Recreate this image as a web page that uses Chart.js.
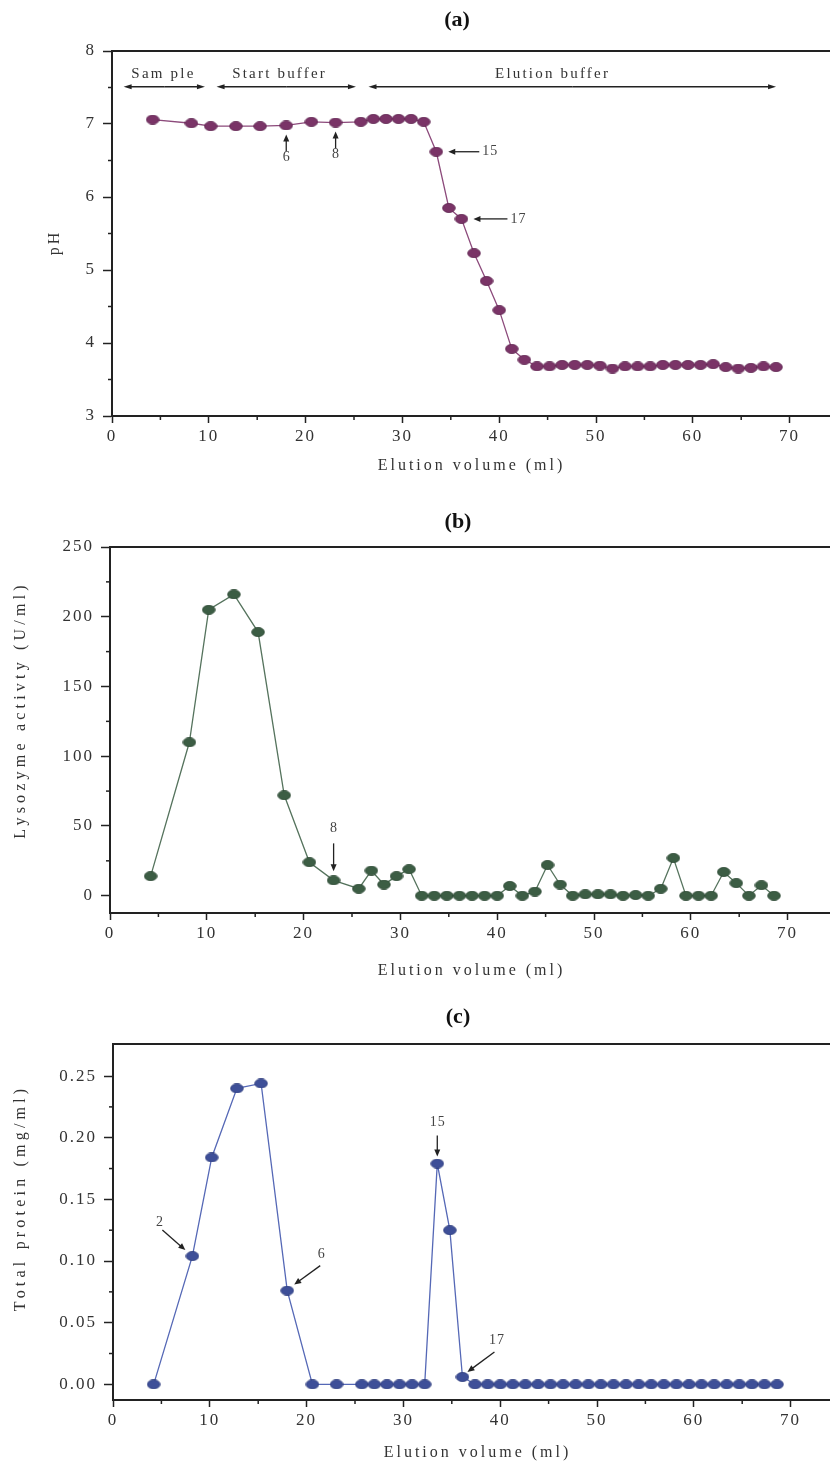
<!DOCTYPE html>
<html><head><meta charset="utf-8">
<script src="https://cdn.jsdelivr.net/npm/chart.js@4.4.1/dist/chart.umd.min.js"></script>
<style>
html,body{margin:0;padding:0;background:#fff;overflow:hidden;width:830px;height:1465px}
.p{position:absolute;left:0;width:830px}
canvas{display:block}
</style></head><body>
<div class="p" style="top:0px;height:490px"><canvas id="ca" width="830" height="490"></canvas></div>
<div class="p" style="top:490px;height:500px"><canvas id="cb" width="830" height="500"></canvas></div>
<div class="p" style="top:990px;height:475px"><canvas id="cc" width="830" height="475"></canvas></div>
<script>
// ---------------- DATA ----------------
const elutionVolume = [4.2, 8.2, 10.2, 12.8, 15.3, 18.0, 20.6, 23.1, 25.7, 27.0, 28.3, 29.6, 30.9, 32.2,
  33.5, 34.8, 36.1, 37.4, 38.7, 40.0, 41.3, 42.6, 43.9, 45.2, 46.5, 47.8, 49.1, 50.4, 51.7, 53.0,
  54.3, 55.6, 56.9, 58.2, 59.5, 60.8, 62.1, 63.4, 64.7, 66.0, 67.3, 68.6];
const pHValues = [7.06, 7.01, 6.97, 6.97, 6.97, 6.98, 7.03, 7.02, 7.03, 7.07, 7.07, 7.07, 7.07, 7.03,
  6.62, 5.85, 5.70, 5.23, 4.85, 4.45, 3.92, 3.77,
  3.68, 3.68, 3.70, 3.70, 3.70, 3.69, 3.65, 3.68, 3.68, 3.68, 3.70, 3.70, 3.70, 3.70, 3.71, 3.67, 3.65, 3.66, 3.68, 3.67];
const lysozymeActivity = [14, 110, 205, 216, 189, 72, 24, 11, 5, 18, 8, 14, 19, 0,
  0, 0, 0, 0, 0, 0, 7, 0, 3, 22, 8, 0, 1, 1, 1, 0, 0.5, 0, 5, 27, 0, 0, 0, 17, 9, 0, 7.5, 0];
const totalProtein = [0, 0.104, 0.184, 0.240, 0.244, 0.076, 0, 0, 0, 0, 0, 0, 0, 0,
  0.179, 0.125, 0.006, 0, 0, 0, 0, 0, 0, 0, 0, 0, 0, 0, 0, 0, 0, 0, 0, 0, 0, 0, 0, 0, 0, 0, 0, 0];
const xTicks = [0, 10, 20, 30, 40, 50, 60, 70];
const xMinorTicks = [5, 15, 25, 35, 45, 55, 65];
const pHTicks = [3, 4, 5, 6, 7, 8];
const pHMinorTicks = [3.5, 4.5, 5.5, 6.5, 7.5];
const activityTicks = [0, 50, 100, 150, 200, 250];
const activityMinorTicks = [25, 75, 125, 175, 225];
const proteinTicks = [0, 0.05, 0.10, 0.15, 0.20, 0.25];
const proteinMinorTicks = [0.025, 0.075, 0.125, 0.175, 0.225];
const regionLabels = ['Sam ple', 'Start buffer', 'Elution buffer'];
const regionFrom = [1.2, 10.8, 26.5];
const regionTo = [9.6, 25.2, 68.6];

// ---------------- HELPERS ----------------
const SERIF = "'Liberation Serif','Times New Roman',serif";
function ellipseImg(fill, stroke) {
  const c = document.createElement('canvas'); c.width = 14; c.height = 10;
  const g = c.getContext('2d');
  g.beginPath(); g.ellipse(7, 5, 6.3, 4.6, 0, 0, Math.PI * 2);
  g.fillStyle = fill; g.fill(); g.lineWidth = 0.8; g.strokeStyle = stroke; g.stroke();
  return c;
}
function arrow(ctx, x1, y1, x2, y2, hl, hw) {
  const a = Math.atan2(y2 - y1, x2 - x1);
  ctx.beginPath(); ctx.moveTo(x1, y1);
  ctx.lineTo(x2 - Math.cos(a) * hl * 0.8, y2 - Math.sin(a) * hl * 0.8); ctx.stroke();
  ctx.beginPath(); ctx.moveTo(x2, y2);
  ctx.lineTo(x2 - Math.cos(a) * hl + Math.sin(a) * hw, y2 - Math.sin(a) * hl - Math.cos(a) * hw);
  ctx.lineTo(x2 - Math.cos(a) * hl - Math.sin(a) * hw, y2 - Math.sin(a) * hl + Math.cos(a) * hw);
  ctx.closePath(); ctx.fill();
}
function text(ctx, s, x, y, font, spacing, align, color, rot) {
  ctx.save();
  ctx.font = font; ctx.letterSpacing = spacing + 'px'; ctx.fillStyle = color || '#333';
  ctx.textBaseline = 'middle';
  ctx.translate(x, y); if (rot) ctx.rotate(rot);
  let w = ctx.measureText(s).width - spacing;
  let dx = align === 'left' ? 0 : align === 'right' ? -w : -w / 2;
  ctx.textAlign = 'left';
  ctx.fillText(s, dx, 0);
  ctx.restore();
}

function makeChart(cfg) {
  const H = cfg.H, A = cfg.area;
  const xMax = (830 - A.left) / 9.68;
  const deco = {
    id: 'deco',
    beforeDraw(chart) { chart.ctx.letterSpacing = '2px'; },
    afterDraw(chart) {
      const ctx = chart.ctx, ca = chart.chartArea;
      const xs = chart.scales.x, ys = chart.scales.y;
      ctx.save();
      ctx.letterSpacing = '0px';
      ctx.strokeStyle = '#222'; ctx.fillStyle = '#222';
      ctx.lineWidth = 2;
      ctx.beginPath(); ctx.moveTo(ca.left - 1, ca.top); ctx.lineTo(830, ca.top); ctx.stroke();
      ctx.lineWidth = 1.5;
      xMinorTicks.forEach(v => { const px = xs.getPixelForValue(v);
        ctx.beginPath(); ctx.moveTo(px, ca.bottom); ctx.lineTo(px, ca.bottom + 4); ctx.stroke(); });
      cfg.yMinor.forEach(v => { const py = ys.getPixelForValue(v);
        ctx.beginPath(); ctx.moveTo(ca.left, py); ctx.lineTo(ca.left - 4, py); ctx.stroke(); });
      ctx.restore();
      text(ctx, cfg.panel, cfg.panelX, cfg.panelY, "bold 22px " + SERIF, 0, 'center', '#111');
      text(ctx, 'Elution volume (ml)', cfg.xtX, cfg.xtY, "16px " + SERIF, 3, 'center', '#333');
      text(ctx, cfg.ytitle, cfg.ytX, cfg.ytY, "16px " + SERIF, cfg.ytSpacing, 'center', '#333', -Math.PI / 2);
      ctx.save();
      ctx.strokeStyle = '#222'; ctx.fillStyle = '#222'; ctx.lineWidth = 1.3;
      (cfg.notes || []).forEach(n => {
        const px = xs.getPixelForValue(n.x), py = ys.getPixelForValue(n.y);
        arrow(ctx, px + n.tail[0], py + n.tail[1], px + n.head[0], py + n.head[1], 7, 3);
        text(ctx, n.label, px + n.lab[0], py + n.lab[1], "14px " + SERIF, 1, n.align || 'center', '#444');
      });
      ctx.restore();
      if (cfg.regions) cfg.regions(chart, ctx, xs, ys);
    }
  };
  return new Chart(document.getElementById(cfg.id), {
    type: 'line',
    data: { datasets: [{
      data: elutionVolume.map((x, i) => ({ x: x, y: cfg.values[i] })),
      borderColor: cfg.line, borderWidth: 1.3, tension: 0,
      pointStyle: ellipseImg(cfg.fill, cfg.stroke), pointRadius: 6, pointHoverRadius: 6
    }] },
    options: {
      responsive: false, animation: false, devicePixelRatio: 1,
      layout: { autoPadding: false, padding: { top: A.top, left: 0, right: 0, bottom: 0 } },
      plugins: { legend: { display: false }, tooltip: { enabled: false } },
      scales: {
        x: {
          type: 'linear', min: 0, max: xMax,
          afterBuildTicks: s => { s.ticks = xTicks.map(v => ({ value: v })); },
          afterFit: s => { s.height = H - A.bottom; s.paddingRight = 0; s.paddingLeft = 0; },
          ticks: { autoSkip: false, maxRotation: 0, padding: 3, color: '#333',
            font: { size: 17, family: SERIF }, callback: v => String(v) },
          grid: { drawOnChartArea: false, tickLength: 7, tickWidth: 1.5, tickColor: '#222' },
          border: { width: 2, color: '#222' }
        },
        y: {
          type: 'linear', min: cfg.yMin, max: cfg.yMax,
          afterBuildTicks: s => { s.ticks = cfg.yTicks.map(v => ({ value: v })); },
          afterFit: s => { s.width = A.left; s.paddingTop = 0; s.paddingBottom = 0; },
          ticks: { autoSkip: false, padding: 7, color: '#333',
            font: { size: 17, family: SERIF }, callback: cfg.yFmt },
          grid: { drawOnChartArea: false, tickLength: 9, tickWidth: 1.5, tickColor: '#222' },
          border: { width: 2, color: '#222' }
        }
      }
    },
    plugins: [deco]
  });
}

// ---------------- PANEL (a) ----------------
makeChart({
  id: 'ca', H: 490, area: { left: 112, top: 51, bottom: 416 },
  values: pHValues, yMin: 3, yMax: 8, yTicks: pHTicks, yMinor: pHMinorTicks, yFmt: v => String(v),
  line: '#8c4a7b', fill: '#7a3467', stroke: '#5e2450',
  panel: '(a)', panelX: 457, panelY: 20, xtX: 470, xtY: 466,
  ytitle: 'pH', ytX: 55, ytY: 244, ytSpacing: 3,
  notes: [
    { x: 18.0, y: 6.98, tail: [0, 26], head: [0, 9], lab: [0, 32], label: '6' },
    { x: 23.1, y: 7.02, tail: [0, 26], head: [0, 9], lab: [0, 32], label: '8' },
    { x: 33.5, y: 6.62, tail: [43, 0], head: [12, 0], lab: [46, 0], label: '15', align: 'left' },
    { x: 36.1, y: 5.70, tail: [46, 0], head: [12, 0], lab: [49, 0], label: '17', align: 'left' }
  ],
  regions: (chart, ctx, xs, ys) => {
    ctx.save(); ctx.strokeStyle = '#222'; ctx.fillStyle = '#222'; ctx.lineWidth = 1.3;
    const centers = [5.2, 17.2, 45.4];
    regionLabels.forEach((s, i) => {
      const y = ys.getPixelForValue(7.51);
      const x1 = xs.getPixelForValue(regionFrom[i]), x2 = xs.getPixelForValue(regionTo[i]);
      const xm = (x1 + x2) / 2;
      arrow(ctx, xm, y, x1, y, 8, 2.5); arrow(ctx, xm, y, x2, y, 8, 2.5);
      text(ctx, s, xs.getPixelForValue(centers[i]), ys.getPixelForValue(7.69), "15px " + SERIF, 2.2, 'center', '#333');
    });
    ctx.restore();
  }
});

// ---------------- PANEL (b) ----------------
makeChart({
  id: 'cb', H: 500, area: { left: 110, top: 57, bottom: 423 },
  values: lysozymeActivity, yMin: -12.4, yMax: 250, yTicks: activityTicks, yMinor: activityMinorTicks, yFmt: v => String(v),
  line: '#55735d', fill: '#3c5d44', stroke: '#2c4733',
  panel: '(b)', panelX: 458, panelY: 32, xtX: 470, xtY: 481,
  ytitle: 'Lysozyme activty (U/ml)', ytX: 21, ytY: 222, ytSpacing: 4.2,
  notes: [
    { x: 23.1, y: 11, tail: [0, -37], head: [0, -9], lab: [0, -52], label: '8' }
  ]
});

// ---------------- PANEL (c) ----------------
makeChart({
  id: 'cc', H: 475, area: { left: 113, top: 54, bottom: 410 },
  values: totalProtein, yMin: -0.0127, yMax: 0.276, yTicks: proteinTicks, yMinor: proteinMinorTicks, yFmt: v => v.toFixed(2),
  line: '#5568b6', fill: '#3e4f98', stroke: '#2d3c7c',
  panel: '(c)', panelX: 458, panelY: 27, xtX: 476, xtY: 463,
  ytitle: 'Total protein (mg/ml)', ytX: 21, ytY: 210, ytSpacing: 4.2,
  notes: [
    { x: 8.2, y: 0.104, tail: [-30, -26], head: [-7, -6], lab: [-33, -34], label: '2' },
    { x: 18.0, y: 0.076, tail: [33, -25], head: [7, -6], lab: [34, -36], label: '6' },
    { x: 33.5, y: 0.179, tail: [0, -28], head: [0, -7], lab: [0, -41], label: '15' },
    { x: 36.1, y: 0.006, tail: [32, -25], head: [5, -5], lab: [34, -37], label: '17' }
  ]
});
</script>
</body></html>
